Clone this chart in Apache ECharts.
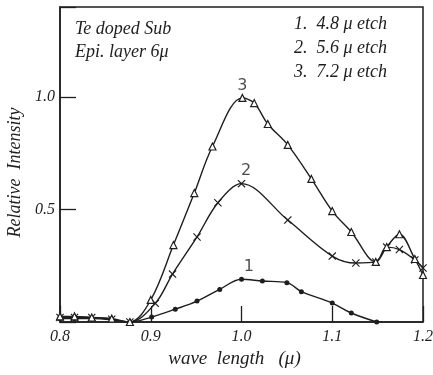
<!DOCTYPE html>
<html>
<head>
<meta charset="utf-8">
<script src="https://cdn.jsdelivr.net/npm/echarts@6/dist/echarts.min.js"></script>
<style>
html,body{margin:0;padding:0;background:#fff;}
#chart{width:433px;height:375px;}
</style>
</head>
<body>
<div id="chart"></div>
<script>
// Curve 1: 4.8 μ etch (dots)
var x1 = [0.8, 0.816, 0.835, 0.857, 0.877, 0.901, 0.927, 0.951, 0.976, 1.0, 1.023, 1.05, 1.066, 1.1, 1.121, 1.149];
var y1 = [0.015, 0.015, 0.015, 0.01, 0.0, 0.022, 0.057, 0.093, 0.145, 0.19, 0.182, 0.175, 0.135, 0.084, 0.04, 0.0];
// Curve 2: 5.6 μ etch (crosses)
var x2 = [0.8, 0.816, 0.835, 0.857, 0.877, 0.905, 0.924, 0.951, 0.974, 1.0, 1.051, 1.1, 1.126, 1.148, 1.16, 1.174, 1.191, 1.2];
var y2 = [0.02, 0.02, 0.02, 0.012, 0.0, 0.083, 0.213, 0.378, 0.53, 0.615, 0.453, 0.293, 0.262, 0.267, 0.333, 0.322, 0.276, 0.24];
// Curve 3: 7.2 μ etch (triangles)
var x3 = [0.8, 0.816, 0.835, 0.857, 0.877, 0.9, 0.925, 0.948, 0.968, 1.001, 1.014, 1.029, 1.051, 1.077, 1.1, 1.121, 1.148, 1.16, 1.174, 1.191, 1.2];
var y3 = [0.025, 0.025, 0.02, 0.015, 0.0, 0.098, 0.342, 0.573, 0.78, 0.996, 0.973, 0.88, 0.787, 0.636, 0.493, 0.40, 0.267, 0.333, 0.39, 0.28, 0.209];

var curveLabels = ['1', '2', '3'];
var curveLabelAt = [[1.008, 0.245], [1.005, 0.67], [1.001, 1.05]];
var yTickLabels = [0.5, 1.0];
var noteLines = ['Te doped Sub', 'Epi. layer 6μ'];
var legendLines = ['1.  4.8 μ etch', '2.  5.6 μ etch', '3.  7.2 μ etch'];
var xName = 'wave  length   (μ)';
var yName = 'Relative  Intensity';

function pairs(xs, ys) { return xs.map(function (x, i) { return [x, ys[i]]; }); }

var ink = '#1e1e1e';
var serif = '"Liberation Serif", "DejaVu Serif", serif';
var hand = 'italic 18px ' + serif;
var crossPath = 'path://M0,1 L1,0 L5,4 L9,0 L10,1 L6,5 L10,9 L9,10 L5,6 L1,10 L0,9 L4,5 Z';

var chart = echarts.init(document.getElementById('chart'), null, {renderer: 'canvas'});

function lineSeries(data, symbol, size, itemStyle) {
  return {
    type: 'line',
    data: data,
    smooth: 0.35,
    symbol: symbol,
    symbolSize: size,
    showAllSymbol: true,
    lineStyle: {color: ink, width: 1.4},
    itemStyle: itemStyle,
    z: 3
  };
}

var graphics = [];
noteLines.forEach(function (t, i) {
  graphics.push({type: 'text', left: 75, top: 20 + i * 23,
    style: {text: t, font: hand, fill: ink}});
});
legendLines.forEach(function (t, i) {
  graphics.push({type: 'text', left: 294, top: 15 + i * 24,
    style: {text: t, font: hand, fill: ink}});
});

chart.setOption({
  animation: false,
  backgroundColor: '#fff',
  grid: {left: 60, right: 10, top: 7, bottom: 53, show: true, borderColor: ink, borderWidth: 1.5,
    outerBoundsMode: 'none', containLabel: false},
  xAxis: {
    type: 'value', min: 0.8, max: 1.2, interval: 0.1,
    name: xName, nameLocation: 'middle', nameGap: 23,
    nameTextStyle: {fontFamily: serif, fontStyle: 'italic', fontSize: 19, color: ink, padding: [0, 14, 0, 0]},
    axisLine: {lineStyle: {color: ink, width: 1.5}},
    axisTick: {inside: true, length: 16, lineStyle: {color: ink, width: 1.3}},
    splitLine: {show: false},
    axisLabel: {margin: 7, fontFamily: serif, fontStyle: 'italic', fontSize: 16, color: ink,
      formatter: function (v) { return v.toFixed(1); }}
  },
  yAxis: {
    type: 'value', min: 0, max: 1.4, interval: 0.5,
    name: yName, nameLocation: 'middle', nameGap: 34, nameRotate: 90,
    nameTextStyle: {fontFamily: serif, fontStyle: 'italic', fontSize: 18, color: ink, padding: [0, 16, 0, 0]},
    axisLine: {lineStyle: {color: ink, width: 1.5}},
    axisTick: {inside: true, length: 16, lineStyle: {color: ink, width: 1.3}},
    splitLine: {show: false},
    axisLabel: {margin: 5, fontFamily: serif, fontStyle: 'italic', fontSize: 16, color: ink,
      formatter: function (v) { return yTickLabels.indexOf(Math.round(v * 10) / 10) >= 0 ? v.toFixed(1) : ''; }}
  },
  series: [
    lineSeries(pairs(x1, y1), 'circle', 5, {color: ink}),
    lineSeries(pairs(x2, y2), crossPath, 8, {color: ink}),
    lineSeries(pairs(x3, y3), 'triangle', 7, {color: '#fff', borderColor: ink, borderWidth: 1.2}),
    {
      type: 'scatter',
      data: curveLabelAt.map(function (p, i) { return {value: p, name: curveLabels[i]}; }),
      symbolSize: 0,
      label: {show: true, position: 'inside', formatter: '{b}', fontFamily: '"DejaVu Sans", sans-serif', fontSize: 16, color: ink},
      z: 5
    }
  ],
  graphic: graphics
});
</script>
</body>
</html>
